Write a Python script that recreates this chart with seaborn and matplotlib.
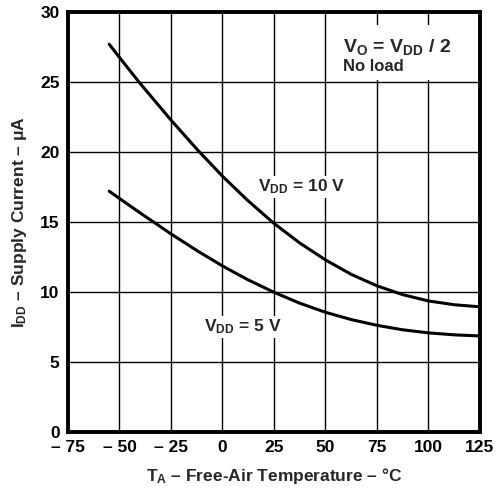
import matplotlib
matplotlib.use("Agg")
import matplotlib.pyplot as plt
from matplotlib.patches import Rectangle
import seaborn as sns
import pandas as pd

temps = [-55, -50, -40, -25, -12, 0, 12, 25, 37.5, 50, 62.5, 75, 87.5, 100, 112.5, 125]
idd_10v = [27.7, 26.75, 24.9, 22.28, 20.13, 18.27, 16.57, 14.9, 13.5, 12.29, 11.26, 10.44, 9.81, 9.36, 9.09, 8.94]
idd_5v = [17.2, 16.68, 15.65, 14.15, 12.92, 11.86, 10.9, 9.98, 9.2, 8.55, 8.03, 7.62, 7.3, 7.08, 6.94, 6.86]
x_ticks = [-75, -50, -25, 0, 25, 50, 75, 100, 125]
x_tick_labels = ["– 75", "– 50", "– 25", "0", "25", "50", "75", "100", "125"]
y_ticks = [0, 5, 10, 15, 20, 25, 30]

df = pd.DataFrame({
    "T": temps * 2,
    "I": idd_10v + idd_5v,
    "series": ["10V"] * len(temps) + ["5V"] * len(temps),
})

sns.set_theme(style="white")
plt.rcParams["font.family"] = ["Liberation Sans", "DejaVu Sans"]
plt.rcParams["font.weight"] = "bold"
plt.rcParams["mathtext.fontset"] = "custom"
plt.rcParams["mathtext.rm"] = "Liberation Sans:bold"
plt.rcParams["mathtext.it"] = "Liberation Sans:bold"
plt.rcParams["mathtext.bf"] = "Liberation Sans:bold"

fig = plt.figure(figsize=(5.02, 4.88), dpi=100)
ax = fig.add_axes([68/502, 1 - 432/488, (480-68)/502, (432-12)/488])

sns.lineplot(data=df, x="T", y="I", hue="series", palette={"10V": "black", "5V": "black"},
             linewidth=2.2, legend=False, ax=ax, estimator=None)

ax.set_xlim(-75, 125)
ax.set_ylim(0, 30)
ax.set_xticks(x_ticks)
ax.set_xticklabels(x_tick_labels)
ax.set_yticks(y_ticks)
ax.grid(True, color="black", linewidth=1.0)
ax.set_axisbelow(True)
for s in ax.spines.values():
    s.set_linewidth(2.8)
    s.set_color("black")
ax.tick_params(axis="both", length=0, labelsize=12.5, colors="black", pad=6)
for lbl in ax.get_xticklabels() + ax.get_yticklabels():
    lbl.set_fontweight("bold")

ax.set_xlabel(r"$\mathrm{T_A}$ – Free-Air Temperature – °C", fontsize=12.5, fontweight="bold", labelpad=8)
ax.set_ylabel(r"$\mathrm{I_{DD}}$ – Supply Current – μA", fontsize=12.5, fontweight="bold", labelpad=8)

# white background behind the condition note (grid lines are interrupted there)
ax.add_patch(Rectangle((0.636, 0.838), 0.364, 0.131, transform=ax.transAxes,
                       facecolor="white", edgecolor="none", zorder=1))

box_small = dict(boxstyle="square,pad=0.12", facecolor="white", edgecolor="none")
ax.text(58.5, 27.5, r"$\mathrm{V_O}$ = $\mathrm{V_{DD}}$ / 2", fontsize=14, fontweight="bold",
        ha="left", va="center", zorder=3)
ax.text(58.5, 26.1, "No load", fontsize=12, fontweight="bold", ha="left", va="center", zorder=3)
ax.text(17, 17.5, r"$\mathrm{V_{DD}}$ = 10 V", fontsize=12.5, fontweight="bold", ha="left", va="center",
        bbox=box_small, zorder=3)
ax.text(-9, 7.5, r"$\mathrm{V_{DD}}$ = 5 V", fontsize=12.5, fontweight="bold", ha="left", va="center",
        bbox=box_small, zorder=3)

fig.savefig("out.png", dpi=100)
